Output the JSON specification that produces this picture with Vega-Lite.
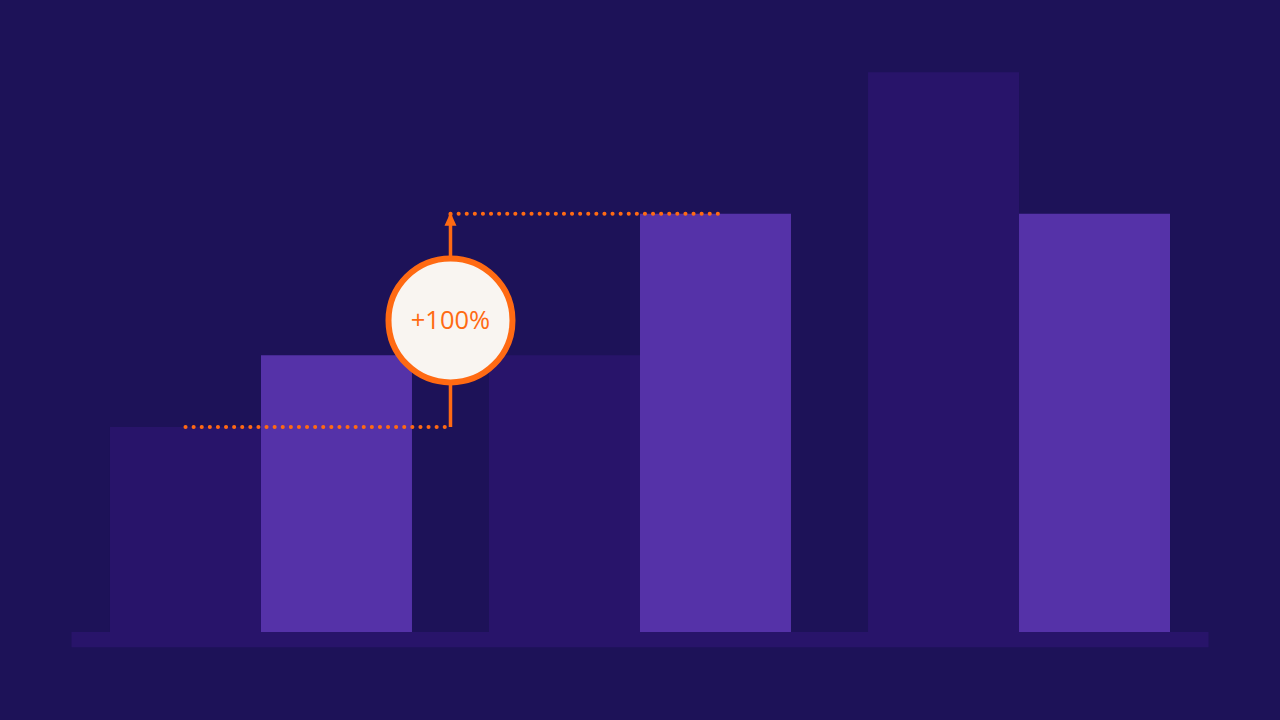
{
  "$schema": "https://vega.github.io/schema/vega-lite/v6.json",
  "width": 1280,
  "height": 720,
  "autosize": {"type": "fit", "contains": "padding"},
  "padding": 0,
  "background": "#1d1258",
  "config": {"view": {"stroke": null}},
  "datasets": {
    "bars": [
      {"period": "1", "series": "before", "value": 100},
      {"period": "1", "series": "after", "value": 135},
      {"period": "2", "series": "before", "value": 135},
      {"period": "2", "series": "after", "value": 204},
      {"period": "3", "series": "before", "value": 273},
      {"period": "3", "series": "after", "value": 204}
    ],
    "change": [
      {"from": "1", "to": "2", "before": 100, "after": 204, "label": "+100%"}
    ]
  },
  "layer": [
    {
      "data": {"values": [{}]},
      "mark": {"type": "rect", "color": "#28146a"},
      "encoding": {
        "x": {
          "datum": "1",
          "type": "nominal",
          "bandPosition": -0.1275,
          "scale": {"domain": ["1", "2", "3"], "paddingInner": 0.2032, "paddingOuter": 0.2902},
          "axis": null
        },
        "x2": {"datum": "3", "bandPosition": 1.1275},
        "y": {
          "datum": 0,
          "type": "quantitative",
          "scale": {"domain": [-42.93, 308.29], "nice": false, "zero": false},
          "axis": null
        },
        "y2": {"datum": -7.5}
      }
    },
    {
      "data": {"name": "bars"},
      "mark": {"type": "bar"},
      "encoding": {
        "x": {"field": "period", "type": "nominal", "axis": null},
        "xOffset": {
          "field": "series",
          "type": "nominal",
          "scale": {"domain": ["before", "after"], "paddingInner": 0, "paddingOuter": 0}
        },
        "y": {"field": "value", "type": "quantitative", "axis": null},
        "y2": {"datum": 0},
        "color": {
          "field": "series",
          "type": "nominal",
          "scale": {"domain": ["before", "after"], "range": ["#28146a", "#5532a8"]},
          "legend": null
        }
      }
    },
    {
      "data": {"name": "change"},
      "mark": {"type": "rule", "color": "#ff6a13", "strokeWidth": 4, "strokeDash": [0.1, 8], "strokeCap": "round"},
      "encoding": {
        "x": {"field": "from", "type": "nominal", "bandPosition": 0.25},
        "x2": {"field": "from", "bandPosition": 1.1275},
        "y": {"field": "before", "type": "quantitative"}
      }
    },
    {
      "data": {"name": "change"},
      "mark": {"type": "rule", "color": "#ff6a13", "strokeWidth": 4, "strokeDash": [0.1, 8], "strokeCap": "round"},
      "encoding": {
        "x": {"field": "from", "type": "nominal", "bandPosition": 1.1275},
        "x2": {"field": "to", "bandPosition": 0.765},
        "y": {"field": "after", "type": "quantitative"}
      }
    },
    {
      "data": {"name": "change"},
      "mark": {"type": "rule", "color": "#ff6a13", "strokeWidth": 3.5},
      "encoding": {
        "x": {"field": "from", "type": "nominal", "bandPosition": 1.1275},
        "y": {"field": "before", "type": "quantitative"},
        "y2": {"field": "after"}
      }
    },
    {
      "data": {"name": "change"},
      "mark": {"type": "point", "shape": "M0,-0.1L-0.5,1L0.5,1Z", "size": 576, "filled": true, "opacity": 1, "color": "#ff6a13"},
      "encoding": {
        "x": {"field": "from", "type": "nominal", "bandPosition": 1.1275},
        "y": {"field": "after", "type": "quantitative"}
      }
    },
    {
      "data": {"name": "change"},
      "transform": [{"calculate": "(datum.before + datum.after) / 2", "as": "mid"}],
      "mark": {"type": "point", "shape": "circle", "size": 15376, "filled": false, "opacity": 1, "fill": "#f9f5f1", "fillOpacity": 1, "stroke": "#ff6a13", "strokeWidth": 6},
      "encoding": {
        "x": {"field": "from", "type": "nominal", "bandPosition": 1.1275},
        "y": {"field": "mid", "type": "quantitative"}
      }
    },
    {
      "data": {"name": "change"},
      "transform": [{"calculate": "(datum.before + datum.after) / 2", "as": "mid"}],
      "mark": {"type": "text", "font": "Open Sans", "fontSize": 25.5, "color": "#ff6a13", "align": "center", "baseline": "middle", "dy": 1},
      "encoding": {
        "x": {"field": "from", "type": "nominal", "bandPosition": 1.1275},
        "y": {"field": "mid", "type": "quantitative"},
        "text": {"field": "label"}
      }
    }
  ]
}
